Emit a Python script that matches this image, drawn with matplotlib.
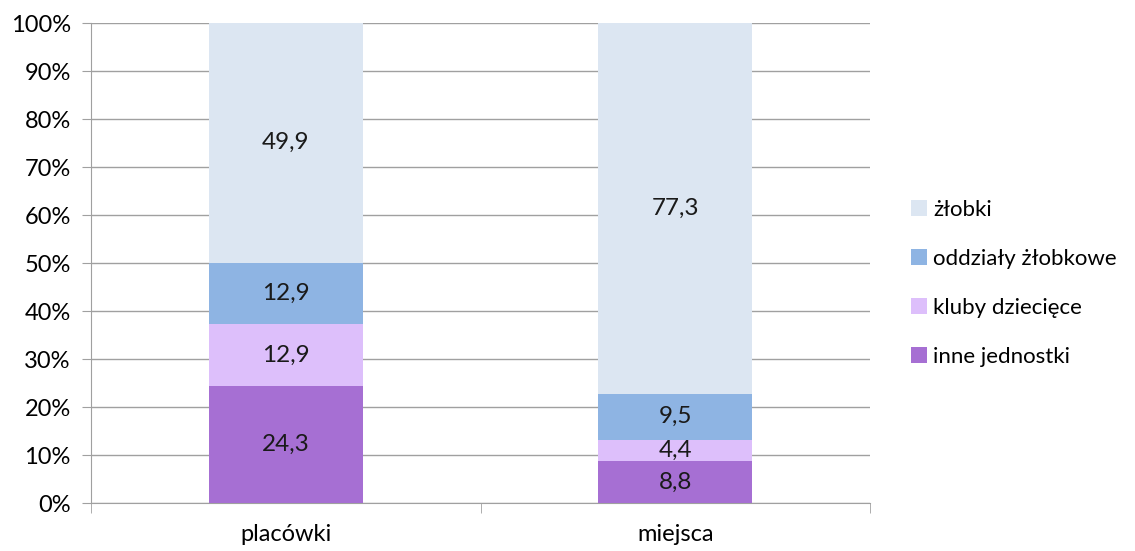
import matplotlib

matplotlib.use('Agg')
import matplotlib.pyplot as plt
import numpy as np

categories = ['placówki', 'miejsca']
series_names = ['inne jednostki', 'kluby dziecięce', 'oddziały żłobkowe', 'żłobki']
inne = [24.3, 8.8]
kluby = [12.9, 4.4]
oddzialy = [12.9, 9.5]
zlobki = [49.9, 77.3]
colors = ['#A66FD3', '#DDBFFB', '#8EB4E3', '#DCE6F2']

plt.rcParams['font.family'] = ['Lato', 'DejaVu Sans']
fs = 17

fig = plt.figure(figsize=(11.35, 5.51), dpi=100)
ax = fig.add_axes([91 / 1135, 48 / 551, 779 / 1135, 480 / 551])

x = np.arange(len(categories))
w = 0.395
bottom = np.zeros(len(categories))
handles = []
for name, vals, c in zip(series_names, [inne, kluby, oddzialy, zlobki], colors):
    vals = np.array(vals)
    bars = ax.bar(x, vals, w, bottom=bottom, color=c, label=name, zorder=3)
    handles.append(bars)
    for xi, b, v in zip(x, bottom, vals):
        ax.text(xi, b + v / 2, f'{v:.1f}'.replace('.', ','), ha='center', va='center',
                fontsize=17.5, color='#1a1a1a', zorder=4)
    bottom += vals

ax.set_xlim(-0.5, 1.5)
ax.set_ylim(0, 100)
ax.set_yticks(range(0, 101, 10))
ax.set_yticklabels([f'{v}%' for v in range(0, 101, 10)], fontsize=fs)
ax.set_xticks(x)
ax.set_xticklabels(categories, fontsize=fs)
ax.set_xticks([-0.5, 0.5, 1.5], minor=True)
ax.tick_params(axis='x', which='major', length=0, pad=15)
ax.tick_params(axis='x', which='minor', length=7, color='#A0A0A0', direction='out')
ax.tick_params(axis='y', length=6.5, color='#A0A0A0', pad=8)
ax.grid(axis='y', color='#A0A0A0', linewidth=1, zorder=0)
for s in ['top', 'right']:
    ax.spines[s].set_visible(False)
for s in ['left', 'bottom']:
    ax.spines[s].set_color('#A0A0A0')

leg = fig.legend(handles[::-1], series_names[::-1], loc='upper left',
                 bbox_to_anchor=(911 / 1135, 1 - 200 / 551), frameon=False,
                 fontsize=16, handlelength=0.7, handleheight=0.7,
                 handletextpad=0.3, labelspacing=1.3,
                 borderpad=0, borderaxespad=0)

fig.savefig('out.png', dpi=100)
